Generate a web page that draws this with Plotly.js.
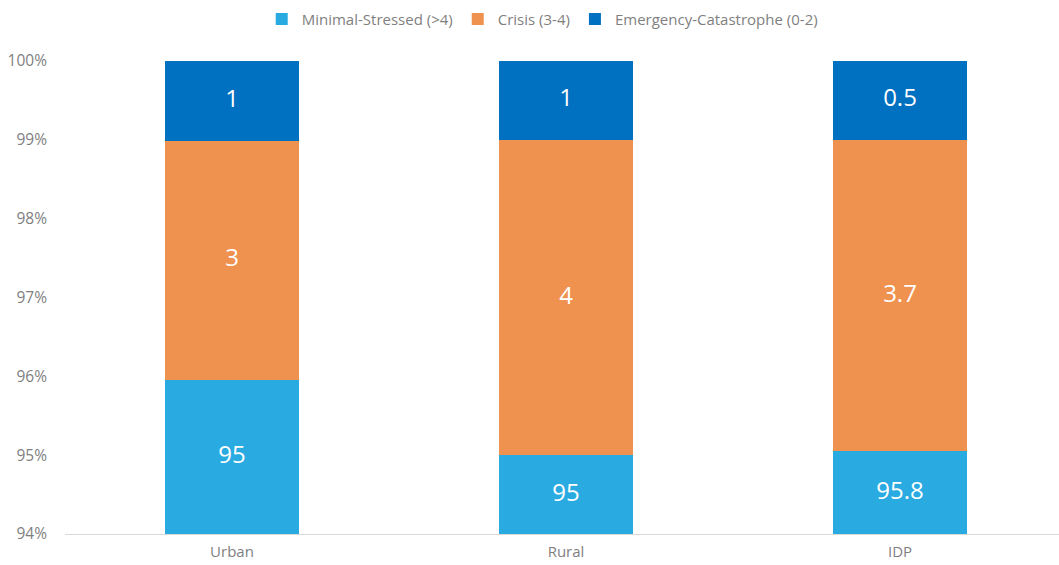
<!DOCTYPE html>
<html>
<head>
<meta charset="utf-8">
<script src="https://cdn.plot.ly/plotly-3.0.1.min.js"></script>
<style>html,body{margin:0;padding:0;background:#fff;}#chart{width:1059px;height:565px;}</style>
</head>
<body>
<div id="chart"></div>
<script>
// Categories
const categories = ['Urban', 'Rural', 'IDP'];
// Segment heights as drawn (each bar totals ~100%)
const minimalValues = [95, 95, 95.05];
const crisisValues = [3, 4, 3.95];
const emergencyValues = [1, 1, 1];
// Labels as printed on the bars
const minimalLabels = ['95', '95', '95.8'];
const crisisLabels = ['3', '4', '3.7'];
const emergencyLabels = ['1', '1', '0.5'];
const seriesNames = ['Minimal-Stressed (>4)', 'Crisis (3-4)', 'Emergency-Catastrophe (0-2)'];
const yTicks = [94, 95, 96, 97, 98, 99, 100];
const yTickLabels = ['94%', '95%', '96%', '97%', '98%', '99%', '100%'];

const FONT = 'Open Sans, Segoe UI, sans-serif';
const colors = ['#29ABE2', '#EF914F', '#0070C0'];
const vals = [minimalValues, crisisValues, emergencyValues];
const labs = [minimalLabels, crisisLabels, emergencyLabels];
const Y_MIN = 94, Y_MAX = 100;

// normalise each bar to percent (like barnorm)
const totals = categories.map((_, j) => vals.reduce((s, v) => s + v[j], 0));
const pct = vals.map(v => v.map((x, j) => x / totals[j] * 100));

const barTraces = pct.map((v, i) => ({
  type: 'bar',
  name: seriesNames[i],
  x: categories,
  y: v,
  marker: {color: colors[i], line: {width: 0}},
  width: 0.4,
  hoverinfo: 'skip'
}));

// label positions: middle of the visible part of each segment
const labelTraces = pct.map((v, i) => {
  const ys = v.map((x, j) => {
    let base = 0;
    for (let k = 0; k < i; k++) base += pct[k][j];
    const lo = Math.max(base, Y_MIN), hi = Math.min(base + x, Y_MAX);
    return (lo + hi) / 2;
  });
  return {
    type: 'scatter',
    mode: 'text',
    x: categories,
    y: ys,
    text: labs[i],
    textposition: 'middle center',
    textfont: {family: FONT, size: 24, color: '#ffffff'},
    showlegend: false,
    hoverinfo: 'skip',
    cliponaxis: false
  };
});

const layout = {
  width: 1059,
  height: 565,
  margin: {l: 65, r: 0, t: 61, b: 31},
  paper_bgcolor: '#ffffff',
  plot_bgcolor: '#ffffff',
  barmode: 'stack',
  font: {family: FONT, color: '#7F7F7F', size: 14},
  showlegend: true,
  legend: {
    orientation: 'h',
    xref: 'container', yref: 'container',
    x: 0.512, xanchor: 'center',
    y: 0.995, yanchor: 'top',
    font: {family: FONT, size: 15, color: '#7F7F7F'},
    traceorder: 'normal',
    itemwidth: 30
  },
  xaxis: {
    type: 'category',
    range: [-0.5, 2.476],
    showline: true,
    linecolor: '#D9D9D9',
    linewidth: 1,
    showgrid: false,
    zeroline: false,
    ticks: '',
    tickfont: {family: FONT, size: 15, color: '#7F7F7F'},
    ticklabelstandoff: 4
  },
  yaxis: {
    range: [Y_MIN, Y_MAX],
    tickmode: 'array',
    tickvals: yTicks,
    ticktext: yTickLabels,
    showgrid: false,
    zeroline: false,
    showline: false,
    ticks: '',
    tickfont: {family: FONT, size: 15.5, color: '#7F7F7F'},
    ticklabelstandoff: 17
  }
};

Plotly.newPlot('chart', barTraces.concat(labelTraces), layout, {displayModeBar: false, staticPlot: true});
</script>
</body>
</html>
